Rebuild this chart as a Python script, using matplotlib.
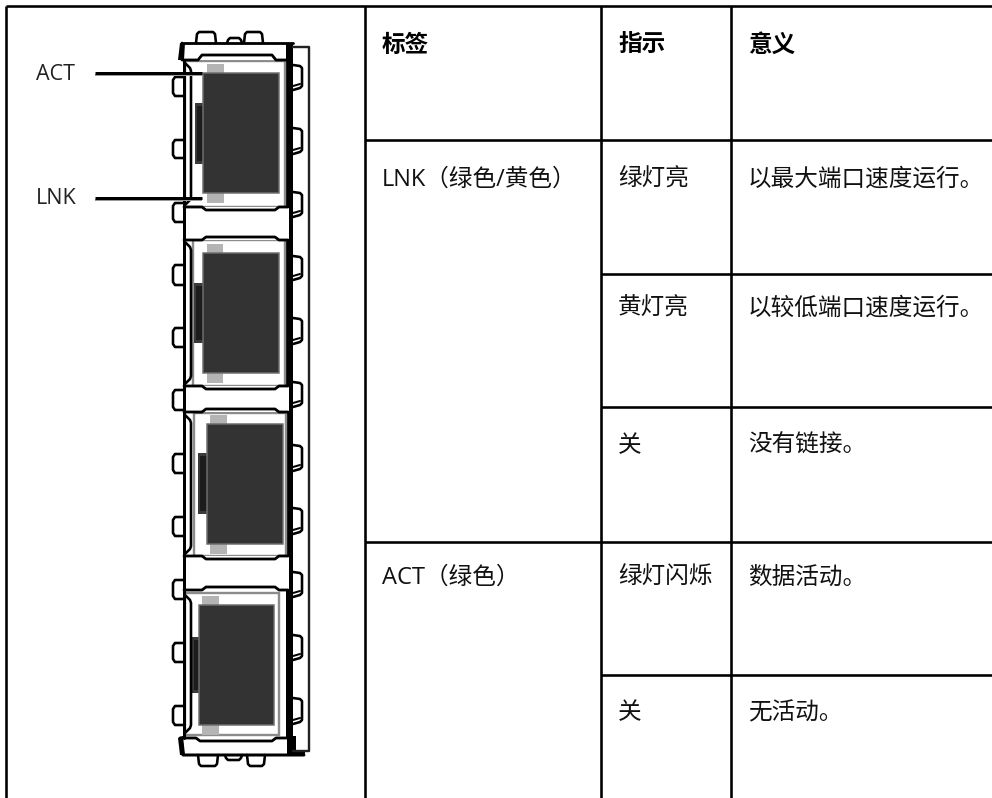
import matplotlib
matplotlib.use("Agg")
import matplotlib.pyplot as plt
from matplotlib.patches import Rectangle, Polygon

plt.rcParams['font.family'] = ['Open Sans', 'Noto Sans CJK SC', 'DejaVu Sans']

# table text
headers = ["标签", "指示", "意义"]
header_x = [382, 618, 748]
header_y = 46
cells = [
    ("LNK（绿色/黄色）", 382, 180),
    ("绿灯亮", 618, 180),
    ("以最大端口速度运行。", 748, 180),
    ("黄灯亮", 618, 309),
    ("以较低端口速度运行。", 748, 309),
    ("关", 618, 446),
    ("没有链接。", 748, 446),
    ("ACT（绿色）", 382, 578),
    ("绿灯闪烁", 618, 578),
    ("数据活动。", 748, 578),
    ("关", 618, 713),
    ("无活动。", 748, 713),
]

# table grid, in pixels
v_lines = [(6, 6, 798), (365, 6, 798), (601, 6, 798), (731, 6, 798)]
h_lines = [(6, 992, 6), (365, 992, 140), (601, 992, 274), (601, 992, 407),
           (365, 992, 542), (601, 992, 675)]

# port drawing: frame x0, x1, y0, y1
frames = [(185, 285, 61, 207), (193, 285, 240, 386), (194, 286, 413, 556), (185, 279, 593, 735)]
# dark window x0, x1, y0, y1
windows = [(203, 279, 73, 193), (203, 279, 253, 373), (207, 283, 424, 544), (199, 274, 605, 725)]
# led x0, x1
leds = [(207, 224), (207, 223), (210, 227), (202, 219)]
# left strip x0, x1, y0, y1
strips = [(195, 203, 103, 164), (194, 203, 283, 343), (198, 207, 453, 514), (192, 199, 637, 693)]
# caps between ports y0, y1
caps = [(207, 240), (386, 412), (556, 590)]
left_tabs = [(77, 96), (140, 158), (203, 222), (265, 285), (328, 347), (390, 410),
             (454, 473), (517, 536), (580, 599), (643, 662), (706, 725)]
right_tabs = [(65, 90), (128, 154), (192, 217), (256, 280), (318, 344), (382, 407),
              (445, 471), (508, 534), (572, 597), (635, 660), (698, 724)]
top_tabs = [(196, 216, 32), (244, 263, 32), (227, 242, 38)]
bottom_tabs = [(198, 218, 766), (247, 265, 766), (225, 242, 760)]
leaders = [("ACT", 73), ("LNK", 198)]

px = 0.72  # one pixel as points at dpi 100

fig = plt.figure(figsize=(9.92, 7.98), dpi=100)
ax = fig.add_axes([0, 0, 1, 1])
ax.set_xlim(0, 992)
ax.set_ylim(798, 0)
ax.axis('off')

# table
for x, y0, y1 in v_lines:
    ax.plot([x, x], [y0, y1], color='black', lw=2.6 * px, solid_capstyle='butt')
for x0, x1, y in h_lines:
    ax.plot([x0, x1], [y, y], color='black', lw=2.6 * px, solid_capstyle='butt')

for label, x in zip(headers, header_x):
    ax.text(x, header_y, label, fontsize=17, fontweight='bold', va='center', ha='left', color='black')
for label, x, y in cells:
    ax.text(x, y, label, fontsize=17, va='center', ha='left', color='#111111')


def outline(xs, ys, lw=2.8, color='black'):
    ax.plot(xs, ys, color=color, lw=lw * px, solid_capstyle='round', solid_joinstyle='round')


# outer shell lines on the right
outline([293, 309, 309, 293], [47, 47, 751, 751], lw=2.4, color='#222222')
ax.add_patch(Rectangle((286, 44), 7, 708, color='black', lw=0))

# body left edge
outline([184, 184], [60, 738], lw=3)

for y0, y1 in left_tabs:
    outline([184, 175, 173, 173, 175, 184], [y0, y0, y0 + 3, y1 - 3, y1, y1], lw=2.6)
for y0, y1 in right_tabs:
    outline([293, 300, 302, 302, 300, 293], [y0, y0 + 1, y0 + 3, y1 - 4, y1 - 2, y1], lw=2.6)
    outline([293, 300], [y1 - 4, y1 - 6], lw=2)

# ports
for (fx0, fx1, fy0, fy1), (wx0, wx1, wy0, wy1), (lx0, lx1), (sx0, sx1, sy0, sy1) in zip(frames, windows, leds, strips):
    ax.add_patch(Rectangle((fx0, fy0), fx1 - fx0, fy1 - fy0, fc='white', ec='#8c8c8c', lw=2.4 * px))
    ax.add_patch(Rectangle((lx0, wy0 - 9), lx1 - lx0, 9, fc='#b4b4b4', ec='none'))
    ax.add_patch(Rectangle((lx0, wy1), lx1 - lx0, 10, fc='#b4b4b4', ec='none'))
    ax.add_patch(Rectangle((sx0, sy0), sx1 - sx0, sy1 - sy0, fc='#3a3a3a', ec='none'))
    ax.add_patch(Rectangle((sx0 + 2, sy0 + 3), sx1 - sx0 - 2, sy1 - sy0 - 6, fc='#1c1c1c', ec='none'))
    ax.add_patch(Rectangle((wx0, wy0), wx1 - wx0, wy1 - wy0, fc='#333333', ec='#6e6e6e', lw=1.5 * px))
    # inner black line with bent ends
    outline([185, 190, 191, 191, 190, 185], [fy0 + 2, fy0 + 7, fy0 + 10, fy1 - 10, fy1 - 7, fy1 - 2], lw=2.6)

# caps between ports
for y0, y1 in caps:
    ax.add_patch(Rectangle((183, y0), 106, y1 - y0, fc='white', ec='none'))
    outline([184, 202, 206, 275, 279, 288], [y0, y0, y0 + 3, y0 + 3, y0, y0])
    outline([184, 202, 206, 275, 279, 288], [y1, y1, y1 - 3, y1 - 3, y1, y1])

# top cap
ax.add_patch(Polygon([(184, 44), (288, 44), (290, 55), (287, 60), (183, 60), (181, 55)], fc='white', ec='none'))
outline([182, 293], [43, 43], lw=2.8)
outline([182, 182, 198, 202, 272, 276, 289], [43, 60, 60, 55, 55, 60, 60], lw=2.8)
ax.add_patch(Polygon([(180, 43), (185, 43), (184, 60), (178, 60)], fc='black', ec='none'))
ax.add_patch(Polygon([(286, 43), (293, 43), (293, 62), (286, 62)], fc='black', ec='none'))

# bottom cap
ax.add_patch(Rectangle((184, 738), 103, 17, fc='white', ec='none'))
outline([180, 196, 200, 272, 276, 292], [738, 738, 741, 741, 738, 738])
outline([181, 183, 304], [738, 755, 755], lw=3)
ax.add_patch(Polygon([(178, 738), (183, 736), (185, 755), (180, 755)], fc='black', ec='none'))
ax.add_patch(Polygon([(287, 736), (296, 736), (296, 753), (287, 753)], fc='black', ec='none'))
ax.add_patch(Rectangle((287, 750), 18, 4, fc='black', ec='none'))

# tabs above and below
for x0, x1, y in top_tabs:
    outline([x0, x0 + 1, x0 + 3, x1 - 3, x1 - 1, x1], [43, y + 2, y, y, y + 2, 43], lw=2.6)
for x0, x1, y in bottom_tabs:
    outline([x0, x0 + 1, x0 + 3, x1 - 3, x1 - 1, x1], [755, y - 2, y, y, y - 2, 755], lw=2.6)

# leader lines and their labels
for label, y in leaders:
    ax.plot([95, 202], [y + 2, y + 2], color='#999999', lw=2 * px, solid_capstyle='butt')
    ax.plot([95, 202], [y, y], color='black', lw=3 * px, solid_capstyle='butt')
    ax.text(36, y + 1, label, fontsize=15.5, va='center', ha='left', color='#222222')

fig.savefig("out.png", dpi=100)
plt.close()
